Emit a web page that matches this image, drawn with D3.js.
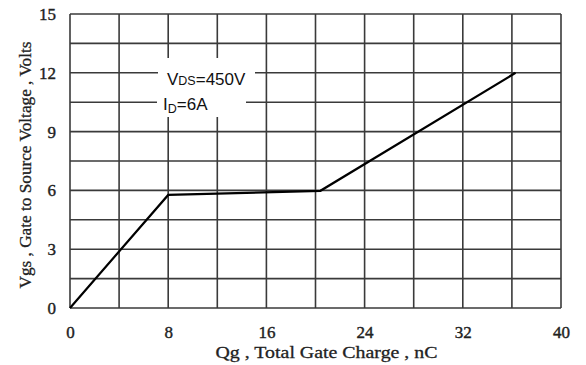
<!DOCTYPE html>
<html>
<head>
<meta charset="utf-8">
<script src="https://cdn.jsdelivr.net/npm/d3@7"></script>
<style>
  body { margin: 0; background: #fff; }
  svg { display: block; }
</style>
</head>
<body>
<svg width="586" height="365"></svg>
<script>
// curve points (Qg nC, Vgs V)
const qg = [0, 8, 20.4, 36.3];
const vgs = [0, 5.77, 5.98, 12];
const xTicks = [0, 8, 16, 24, 32, 40];
const yTicks = [0, 3, 6, 9, 12, 15];
const xGrid = d3.range(0, 40.01, 4);
const yGrid = d3.range(0, 15.01, 1.5);

const margin = { top: 14, right: 25, bottom: 57, left: 70 };
const width = 586 - margin.left - margin.right;
const height = 365 - margin.top - margin.bottom;
const serif = "Liberation Serif, Times New Roman, serif";

const svg = d3.select("svg")
  .append("g")
  .attr("transform", "translate(" + margin.left + "," + margin.top + ")");

const x = d3.scaleLinear().domain([0, 40]).range([0, width]);
const y = d3.scaleLinear().domain([0, 15]).range([height, 0]);

// grid
svg.selectAll(".vgrid")
  .data(xGrid)
  .enter()
  .append("line")
  .attr("x1", (d) => x(d)).attr("x2", (d) => x(d))
  .attr("y1", 0).attr("y2", height)
  .attr("stroke", "#3a3a3a").attr("stroke-width", 1.6);

svg.selectAll(".hgrid")
  .data(yGrid)
  .enter()
  .append("line")
  .attr("x1", 0).attr("x2", width)
  .attr("y1", (d) => y(d)).attr("y2", (d) => y(d))
  .attr("stroke", "#3a3a3a").attr("stroke-width", 1.6);

// white boxes behind the condition labels
svg.append("rect").attr("x", 88).attr("y", 44).attr("width", 97).attr("height", 31).attr("fill", "#fff");
svg.append("rect").attr("x", 87).attr("y", 75).attr("width", 89).attr("height", 28).attr("fill", "#fff");

const cond = svg.append("g")
  .attr("font-family", "Liberation Sans, Arial, sans-serif")
  .attr("font-size", 17)
  .attr("fill", "#111");

const t1 = cond.append("text").attr("x", 97).attr("y", 71);
t1.append("tspan").text("V");
t1.append("tspan").attr("font-size", 12.5).text("DS");
t1.append("tspan").text("=450V");

const t2 = cond.append("text").attr("x", 93).attr("y", 96);
t2.append("tspan").text("I");
t2.append("tspan").attr("font-size", 12.5).attr("dy", 3).text("D");
t2.append("tspan").attr("dy", -3).text("=6A");

// curve
const line = d3.line()
  .x((d, i) => x(qg[i]))
  .y((d, i) => y(vgs[i]));

svg.append("path")
  .datum(vgs)
  .attr("d", line)
  .attr("fill", "none")
  .attr("stroke", "#000")
  .attr("stroke-width", 2.2);

// axes (labels only, grid draws the frame)
const xAxis = svg.append("g")
  .attr("transform", "translate(0," + height + ")")
  .call(d3.axisBottom(x).tickValues(xTicks).tickSize(0).tickPadding(18));
const yAxis = svg.append("g")
  .call(d3.axisLeft(y).tickValues(yTicks).tickSize(0).tickPadding(14));

[xAxis, yAxis].forEach((a) => {
  a.select(".domain").remove();
  a.selectAll("text")
    .attr("font-family", serif)
    .attr("font-size", 17)
    .attr("fill", "#222")
    .attr("stroke", "#222")
    .attr("stroke-width", 0.4);
});

// axis titles
svg.append("text")
  .attr("x", width / 2 + 11)
  .attr("y", height + 50)
  .attr("text-anchor", "middle")
  .attr("font-family", serif)
  .attr("font-size", 17)
  .attr("fill", "#222")
  .attr("stroke", "#222")
  .attr("stroke-width", 0.3)
  .attr("textLength", 222)
  .attr("lengthAdjust", "spacingAndGlyphs")
  .text("Qg , Total Gate Charge , nC");

svg.append("text")
  .attr("text-anchor", "middle")
  .attr("transform", "translate(" + (-margin.left + 31) + "," + (height / 2 + 4) + ")rotate(-90)")
  .attr("font-family", serif)
  .attr("font-size", 17)
  .attr("fill", "#222")
  .attr("stroke", "#222")
  .attr("stroke-width", 0.3)
  .attr("textLength", 247)
  .attr("lengthAdjust", "spacingAndGlyphs")
  .text("Vgs , Gate to Source Voltage , Volts");
</script>
</body>
</html>
